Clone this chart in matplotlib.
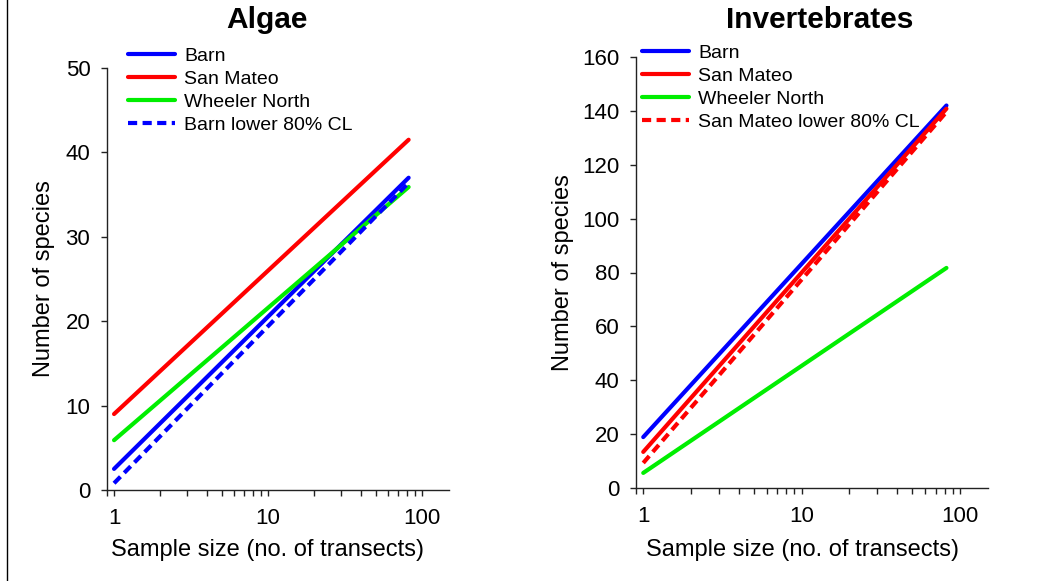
import matplotlib.pyplot as plt
import matplotlib.ticker as mticker
from matplotlib.lines import Line2D

plt.rcParams['font.family'] = ['Liberation Sans', 'DejaVu Sans']

# sample size (no. of transects), ends of the fitted lines
n = [1, 82]

# Algae
alg_barn = [2.5, 37.0]
alg_sanmateo = [9.0, 41.5]
alg_wheeler = [5.9, 35.9]
alg_barn_low = [0.8, 36.4]

# Invertebrates
inv_barn = [18.9, 142.0]
inv_sanmateo = [13.4, 140.8]
inv_wheeler = [5.6, 81.7]
inv_sanmateo_low = [9.3, 139.6]

dash = (0, (2.2, 1.3))

fig = plt.figure(figsize=(10.5, 5.81), dpi=100)
ax1 = fig.add_axes([107/1050, 1-490/581, 342/1050, 422/581])
ax2 = fig.add_axes([636/1050, 1-488/581, 352/1050, 431/581])


def style(ax, ymax, step):
    ax.set_xscale('log')
    ax.set_xlim(0.9, 150)
    ax.set_ylim(0, ymax)
    ax.set_yticks(range(0, ymax + 1, step))
    ax.xaxis.set_major_locator(mticker.FixedLocator([1, 10, 100]))
    ax.xaxis.set_major_formatter(mticker.FixedFormatter(['1', '10', '100']))
    ax.xaxis.set_minor_locator(mticker.LogLocator(base=10, subs=range(2, 10)))
    ax.xaxis.set_minor_formatter(mticker.NullFormatter())
    for s in ['top', 'right']:
        ax.spines[s].set_visible(False)
    for s in ['left', 'bottom']:
        ax.spines[s].set_linewidth(1.0)
        ax.spines[s].set_color('#222222')
    ax.tick_params(axis='both', which='both', direction='out', length=4, width=1, color='#222222', labelsize=16)
    ax.tick_params(axis='x', pad=9)
    ax.tick_params(axis='y', pad=8)
    ax.set_xlabel('Sample size (no. of transects)', fontsize=17)
    ax.set_ylabel('Number of species', fontsize=17)


style(ax1, 50, 10)
style(ax2, 160, 20)

lw = 3
ax1.plot(n, alg_barn, color='#0000ff', lw=lw, label='Barn', solid_capstyle='round')
ax1.plot(n, alg_sanmateo, color='#ff0000', lw=lw, label='San Mateo', solid_capstyle='round')
ax1.plot(n, alg_wheeler, color='#00ee00', lw=lw, label='Wheeler North', solid_capstyle='round')
ax1.plot(n, alg_barn_low, color='#0000ff', lw=lw, ls=dash, label='Barn lower 80% CL')

ax2.plot(n, inv_barn, color='#0000ff', lw=lw, label='Barn', solid_capstyle='round')
ax2.plot(n, inv_sanmateo, color='#ff0000', lw=lw, label='San Mateo', solid_capstyle='round')
ax2.plot(n, inv_wheeler, color='#00ee00', lw=lw, label='Wheeler North', solid_capstyle='round')
ax2.plot(n, inv_sanmateo_low, color='#ff0000', lw=lw, ls=dash, label='San Mateo lower 80% CL')

for ax in (ax1, ax2):
    for ln in ax.get_lines():
        ln.set_clip_on(False)

leg_kw = dict(loc='upper left', frameon=False, fontsize=14, handlelength=2.4,
              handletextpad=0.5, labelspacing=0.28, borderpad=0, borderaxespad=0)
ax1.legend(bbox_to_anchor=(128/1050, 1-47/581), bbox_transform=fig.transFigure, **leg_kw)
ax2.legend(bbox_to_anchor=(642/1050, 1-44/581), bbox_transform=fig.transFigure, **leg_kw)

ax1.xaxis.set_label_coords(0.468, -0.116)
ax2.xaxis.set_label_coords(0.472, -0.118)
ax1.yaxis.set_label_coords(-0.152, 0.5)
ax2.yaxis.set_label_coords(-0.176, 0.5)

fig.text(267/1050, 1-20/581, 'Algae', fontsize=21.5, fontweight='bold', ha='center', va='center')
fig.text(820/1050, 1-20/581, 'Invertebrates', fontsize=21.5, fontweight='bold', ha='center', va='center')

fig.add_artist(Line2D([7/1050, 7/1050], [0, 1], transform=fig.transFigure, color='black', lw=1))

fig.savefig('out.png', dpi=100)
